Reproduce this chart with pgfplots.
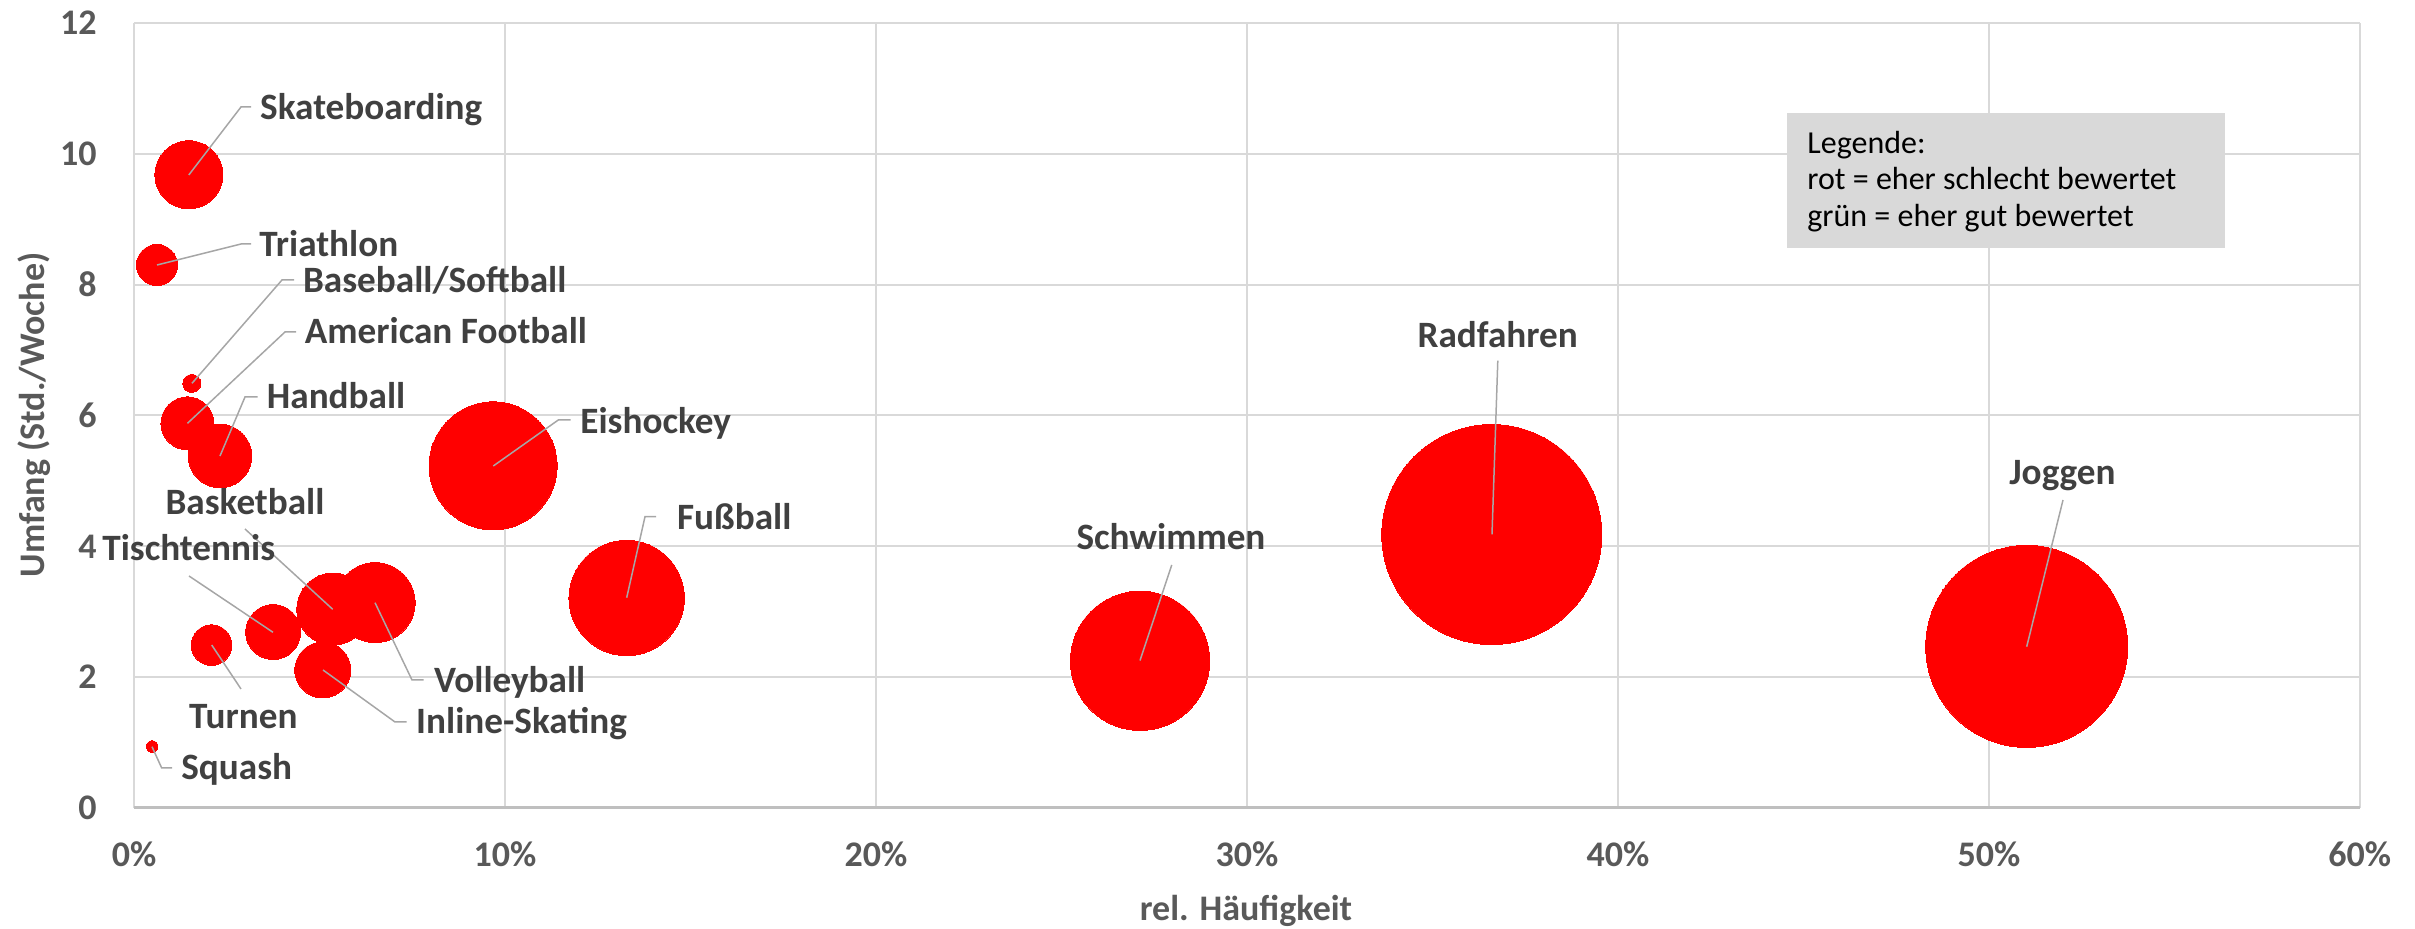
\documentclass[border=0pt]{standalone}
\usepackage{fontspec}
\setmainfont{Carlito}
\usepackage{pgfplots}
\pgfplotsset{compat=1.18}
\usepackage{pgfplotstable}
\definecolor{gridgray}{HTML}{D9D9D9}
\definecolor{axisgray}{HTML}{BFBFBF}
\definecolor{tickgray}{HTML}{595959}
\definecolor{labgray}{HTML}{404040}
\definecolor{leadgray}{HTML}{A6A6A6}
\definecolor{bubred}{HTML}{FF0000}
\newcommand\lab{\fontsize{18}{21.6}\selectfont\bfseries}
\newcommand\dlab{\fontsize{18.6}{22}\selectfont\bfseries}
\newcommand\leg{\fontsize{16}{19}\selectfont}

% x = rel. Haeufigkeit (%), y = Umfang (Std./Woche), r = bubble radius (px)
\pgfplotstableread{
x y r
1.48 9.68 34
0.62 8.30 20.5
1.56 6.49 9
1.44 5.88 26.5
2.32 5.38 31.7
9.68 5.23 64
5.36 3.04 36
6.50 3.14 40
3.75 2.69 27.5
2.09 2.49 20.3
5.09 2.11 28
13.28 3.21 57.7
0.49 0.94 5.8
27.12 2.25 69.6
36.60 4.18 110
51.02 2.47 101
}\bubbles

\begin{document}
\begin{tikzpicture}
\useasboundingbox (0,0) rectangle (1207.5pt,464.5pt);
\begin{axis}[
  at={(67pt,60.5pt)}, anchor=south west,
  scale only axis, width=1113pt, height=392.5pt,
  xmin=0, xmax=60, ymin=0, ymax=12,
  xtick={0,10,...,60},
  xticklabels={0\%,10\%,20\%,30\%,40\%,50\%,60\%},
  ytick={0,2,...,12},
  grid=major,
  major grid style={gridgray, line width=1pt},
  axis line style={draw=none},
  major tick length=0pt,
  tick label style={font=\lab, text=tickgray, inner sep=0pt},
  xticklabel style={anchor=base, yshift=-29.35pt},
  yticklabel style={anchor=east, xshift=-18.5pt},
  /pgf/number format/assume math mode=true,
  clip=false,
]
\addplot[scatter, only marks, mark=*,
  scatter/use mapped color={draw=bubred, fill=bubred},
  mark options={line width=0pt},
  visualization depends on={0.5*\thisrow{r}\as\rad},
  scatter/@pre marker code/.append style={/tikz/mark size=\rad}]
  table[x=x, y=y] {\bubbles};
\draw[axisgray, line width=1.5pt] (axis cs:0,0) -- (axis cs:60,0);
\end{axis}

\begin{scope}[x=0.5pt, y=-0.5pt, yshift=464.5pt]
% leader lines
\begin{scope}[leadgray, line width=0.75pt]
\draw (188.8,175) -- (241,107) -- (251,107);
\draw (157,265) -- (241,244) -- (251,244);
\draw (192,383.3) -- (282,280) -- (294,280);
\draw (187.5,423.3) -- (285,332) -- (296,332);
\draw (220,456) -- (245,397) -- (257.6,397);
\draw (493.3,466) -- (558.3,420) -- (570.7,420);
\draw (245,529) -- (332.7,609.3);
\draw (189,576) -- (273,632.3);
\draw (211.7,645) -- (241,689);
\draw (323,670) -- (395,722) -- (406.6,722);
\draw (375,602.7) -- (412,680) -- (423.5,680);
\draw (626.7,597.7) -- (645,516.7) -- (656,516.7);
\draw (152,746.7) -- (161.7,768) -- (172,768);
\draw (1171.7,565) -- (1140,660.6);
\draw (1497.8,360.7) -- (1492,534.4);
\draw (2063,500) -- (2026.7,646.7);
\end{scope}
% data labels
\begin{scope}[every node/.style={font=\dlab, text=labgray, inner sep=0pt}]
\node[anchor=base west] at (259.8,120) {Skateboarding};
\node[anchor=base west] at (259,256.7) {Triathlon};
\node[anchor=base west] at (302.7,292.7) {Baseball/Softball};
\node[anchor=base west] at (304.5,344) {American Football};
\node[anchor=base west] at (266.5,408.7) {Handball};
\node[anchor=base west] at (580,433.3) {Eishockey};
\node[anchor=base] at (245,515) {Basketball};
\node[anchor=base west] at (102,561) {Tischtennis};
\node[anchor=base west] at (188.8,728.3) {Turnen};
\node[anchor=base west] at (415.8,734) {Inline-Skating};
\node[anchor=base west] at (433.7,692.3) {Volleyball};
\node[anchor=base west] at (676.7,530) {Fußball};
\node[anchor=base west] at (181,780) {Squash};
\node[anchor=base] at (1171,550) {Schwimmen};
\node[anchor=base] at (1497.7,347.4) {Radfahren};
\node[anchor=base] at (2062.5,485) {Joggen};
\end{scope}
% axis titles
\node[anchor=base, font=\lab, text=tickgray, inner sep=0pt] at (1246,920.7) {rel. Häufigkeit};
\node[anchor=base, rotate=90, font=\lab, text=tickgray, inner sep=0pt] at (44.6,415) {Umfang (Std./Woche)};
% legend box
\fill[gridgray] (1787,113) rectangle (2225,248);
\begin{scope}[every node/.style={font=\leg, text=black, inner sep=0pt, anchor=base west}]
\node at (1807,153.3) {Legende:};
\node at (1807,190) {rot = eher schlecht bewertet};
\node at (1807,226.7) {grün = eher gut bewertet};
\end{scope}
\end{scope}
\end{tikzpicture}
\end{document}
